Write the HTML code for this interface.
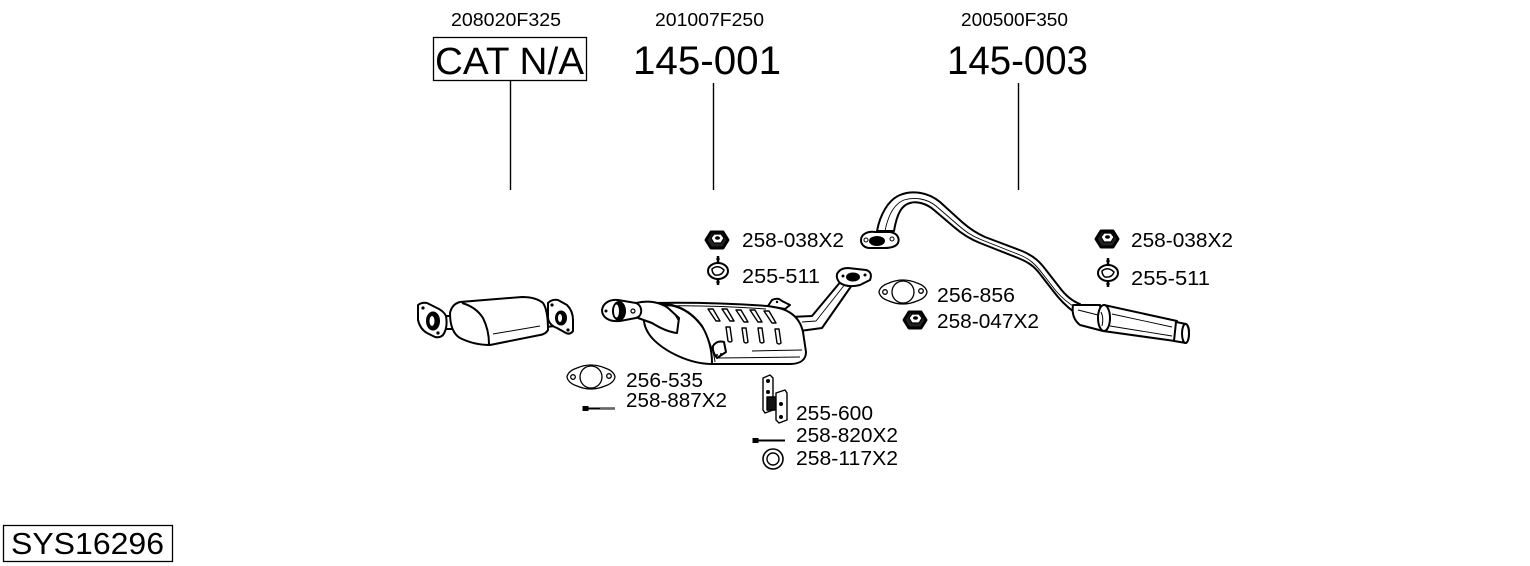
<!DOCTYPE html>
<html><head><meta charset="utf-8"><style>html,body{margin:0;padding:0;background:#fff;}svg{display:block}</style></head>
<body>
<svg width="1530" height="566" viewBox="0 0 1530 566" xmlns="http://www.w3.org/2000/svg" font-family="Liberation Sans, Arial, sans-serif">
<rect width="1530" height="566" fill="#fff"/>

<!-- top reference labels -->
<g fill="#000">
<text x="451" y="26" font-size="18" textLength="110" lengthAdjust="spacingAndGlyphs">208020F325</text>
<text x="655" y="26" font-size="18" textLength="109" lengthAdjust="spacingAndGlyphs">201007F250</text>
<text x="961" y="26" font-size="18" textLength="107" lengthAdjust="spacingAndGlyphs">200500F350</text>
<text x="435" y="74" font-size="38" textLength="149" lengthAdjust="spacingAndGlyphs">CAT N/A</text>
<text x="633" y="74" font-size="40" textLength="148" lengthAdjust="spacingAndGlyphs">145-001</text>
<text x="947" y="74" font-size="40" textLength="141" lengthAdjust="spacingAndGlyphs">145-003</text>
</g>
<rect x="433.5" y="37.5" width="153" height="43" fill="none" stroke="#000" stroke-width="1.3"/>
<g stroke="#000" stroke-width="1.4">
<line x1="510.5" y1="81" x2="510.5" y2="190"/>
<line x1="713.5" y1="83" x2="713.5" y2="190"/>
<line x1="1018.5" y1="83" x2="1018.5" y2="190"/>
</g>

<!-- bottom-left system box -->
<rect x="3.5" y="525.5" width="169" height="36" fill="none" stroke="#000" stroke-width="1.3"/>
<text x="11" y="554" font-size="31" textLength="153" lengthAdjust="spacingAndGlyphs">SYS16296</text>

<!-- part labels -->
<g font-size="20" fill="#000">
<text x="742" y="247" textLength="102" lengthAdjust="spacingAndGlyphs">258-038X2</text>
<text x="742" y="283" textLength="78" lengthAdjust="spacingAndGlyphs">255-511</text>
<text x="937" y="302" textLength="78" lengthAdjust="spacingAndGlyphs">256-856</text>
<text x="937" y="328" textLength="102" lengthAdjust="spacingAndGlyphs">258-047X2</text>
<text x="1131" y="247" textLength="102" lengthAdjust="spacingAndGlyphs">258-038X2</text>
<text x="1131" y="285" textLength="79" lengthAdjust="spacingAndGlyphs">255-511</text>
<text x="626" y="387" textLength="77" lengthAdjust="spacingAndGlyphs">256-535</text>
<text x="626" y="407" textLength="101" lengthAdjust="spacingAndGlyphs">258-887X2</text>
<text x="796" y="420" textLength="77" lengthAdjust="spacingAndGlyphs">255-600</text>
<text x="796" y="442" textLength="102" lengthAdjust="spacingAndGlyphs">258-820X2</text>
<text x="796" y="465" textLength="102" lengthAdjust="spacingAndGlyphs">258-117X2</text>
</g>

<defs>
<g id="nut">
<path d="M-11,0 L-6,-8 L6,-8 L11,0 L6,8 L-6,8 Z" fill="#222" stroke="#000" stroke-width="3" stroke-linejoin="round"/>
<path d="M-6,-2 L-3,-6 L4,-6 L7,-2 L4,3 L-3,3 Z" fill="#fff" stroke="#000" stroke-width="1.2"/>
<ellipse cx="0.5" cy="-2" rx="2.5" ry="1.8" fill="#000"/>
</g>
<g id="hanger" fill="none" stroke="#000">
<line x1="0" y1="-15" x2="0" y2="-7" stroke-width="2.5"/>
<line x1="-2" y1="-12" x2="2" y2="-12" stroke-width="1"/>
<ellipse cx="0" cy="0" rx="10" ry="8" fill="#fff" stroke-width="2"/>
<path d="M-6,-2 Q0,-7 6,-1 Q4,5 -3,4 Q-6,2 -6,-2 Z" stroke-width="1.5"/>
<line x1="0" y1="7" x2="0" y2="14" stroke-width="2.5"/>
<line x1="-2" y1="11" x2="2" y2="11" stroke-width="1"/>
</g>
<g id="gasket" fill="#fff" stroke="#000" stroke-width="1.3">
<path d="M-24,0 Q-23,-6 -14,-9 Q0,-15 14,-9 Q23,-6 24,0 Q23,6 14,9 Q0,15 -14,9 Q-23,6 -24,0 Z"/>
<circle cx="0" cy="0" r="11"/>
<circle cx="-18" cy="0" r="2.3"/>
<circle cx="18" cy="-1" r="2.3"/>
</g>
</defs>

<!-- small icons -->
<use href="#nut" x="717" y="240"/>
<use href="#hanger" x="718" y="271"/>
<use href="#nut" x="1107" y="239"/>
<use href="#hanger" x="1108" y="273"/>
<use href="#gasket" x="903" y="292"/>
<use href="#nut" x="915" y="320"/>
<use href="#gasket" x="591" y="377"/>

<!-- bolt 258-887X2 -->
<g stroke="#000">
<rect x="583" y="406.5" width="5" height="4" fill="#000"/>
<line x1="588" y1="408.5" x2="615" y2="408.5" stroke-width="2"/>
<line x1="600" y1="408.5" x2="615" y2="408.5" stroke-width="1" stroke="#666"/>
</g>
<!-- bolt 258-820X2 -->
<g stroke="#000">
<rect x="753" y="438.5" width="5" height="4" fill="#000"/>
<line x1="758" y1="440.5" x2="785" y2="440.5" stroke-width="2"/>
</g>
<!-- washer -->
<circle cx="773" cy="459" r="10" fill="#fff" stroke="#000" stroke-width="1.6"/>
<circle cx="773" cy="459" r="6" fill="#fff" stroke="#000" stroke-width="1.4"/>
<!-- bracket 255-600 -->
<g stroke="#000" stroke-width="1.4" fill="#fff" stroke-linejoin="round">
<path d="M763,378 L770,375 L773,378 L773,410 L765,413 L763,410 Z"/>
<circle cx="768" cy="381" r="1.3" fill="#000"/>
<circle cx="768" cy="392" r="1.3" fill="#000"/>
<rect x="767" y="397" width="10" height="13" fill="#111"/>
<path d="M776,393 L785,390 L787,393 L787,420 L779,423 L776,420 Z"/>
<circle cx="781" cy="404" r="1.3" fill="#000"/>
<circle cx="781" cy="417" r="1.3" fill="#000"/>
</g>

<!-- catalytic converter -->
<g stroke="#000" stroke-width="2" fill="#fff" stroke-linejoin="round">
<path d="M545,313 L556,313 L556,326 L545,327 Z"/>
<path d="M548,303 Q552,299 558,300 L567,305 Q573,311 573,320 L573,331 Q570,335 566,333 L557,328 Q549,325 548,318 Z"/>
<ellipse cx="561" cy="318" rx="5" ry="6.5" fill="#000"/>
<ellipse cx="560" cy="318" rx="2" ry="4" fill="#fff" stroke="none"/>
<circle cx="552" cy="305" r="1.6" fill="#000" stroke="none"/>
<circle cx="568" cy="330" r="1.6" fill="#000" stroke="none"/>
<path d="M444,316 L456,316 L456,329 L444,329 Z"/>
<path d="M460,302 L522,297 Q536,297 543,303 Q548,310 548,330 Q546,334 540,335 L490,345 Q474,345 460,338 Q450,332 450,313 Q452,304 460,302 Z"/>
<path d="M462,303 Q476,307 483,318 Q489,330 489,344" fill="none"/>
<path d="M493,334 L540,326" fill="none" stroke-width="1"/>
<path d="M418,305 Q422,302 427,303 L435,307 Q444,311 446,316 Q448,328 443,335 Q440,338 435,337 L427,333 Q420,329 418,320 Z"/>
<ellipse cx="433" cy="321" rx="6" ry="8.5" fill="#000"/>
<ellipse cx="432" cy="321" rx="2.5" ry="5" fill="#fff" stroke="none"/>
<circle cx="423" cy="308" r="1.6" fill="#000" stroke="none"/>
<circle cx="438" cy="333" r="1.6" fill="#000" stroke="none"/>
</g>

<!-- middle muffler -->
<g stroke="#000" stroke-width="2" fill="#fff" stroke-linejoin="round">
<!-- outlet pipe -->
<path d="M790,317 L812,316 L842,280 L852,285 L822,328 L800,331 Z"/>
<path d="M802,322 L816,321 L846,283" fill="none" stroke-width="0.9"/>
<path d="M837,274 Q840,268 848,268 L866,270 Q873,272 870,280 L860,285 Q848,288 840,283 Q836,279 837,274 Z"/>
<ellipse cx="853" cy="277" rx="6" ry="3.5" fill="#000"/>
<circle cx="843" cy="276" r="1.5" fill="#000" stroke="none"/>
<circle cx="865" cy="275" r="1.5" fill="#000" stroke="none"/>
<!-- body -->
<path d="M652,303 C700,302 740,304 768,306 C790,308 800,318 803,332 L806,352 C806,360 800,364 790,364 L712,364 C690,364 665,352 652,338 C640,324 642,306 652,303 Z"/>
<path d="M655,306 C700,305 740,307 766,309" fill="none" stroke-width="1"/>
<path d="M656,304 C676,302 692,312 702,326 C709,338 712,350 712,363" fill="none"/>
<path d="M662,305 C680,305 694,315 704,330 C710,342 714,352 715,362" fill="none" stroke-width="1"/>
<path d="M752,351 L802,350" fill="none" stroke-width="1"/>
<path d="M718,358 L800,357" fill="none" stroke-width="1"/>
<!-- ribs upper -->
<g stroke-width="1.4" fill="none">
<path d="M708,309 l5,0 l7,12 l-4,0 z"/>
<path d="M722,309 l5,0 l7,12 l-4,0 z"/>
<path d="M736,310 l5,0 l7,12 l-4,0 z"/>
<path d="M750,310 l5,0 l7,12 l-4,0 z"/>
<path d="M764,311 l5,0 l7,12 l-4,0 z"/>
<!-- ribs lower -->
<path d="M726,327 l4,0 l2,14 q-2,2 -4,0 z"/>
<path d="M742,328 l4,0 l2,14 q-2,2 -4,0 z"/>
<path d="M758,328 l4,0 l2,14 q-2,2 -4,0 z"/>
<path d="M775,329 l4,0 l2,14 q-2,2 -4,0 z"/>
</g>
<!-- hanger bump -->
<path d="M768,306 L772,300 Q778,297 782,301 L790,305 L785,309 Z"/>
<circle cx="777" cy="302" r="1.2" fill="#000" stroke="none"/>
<!-- small bracket -->
<path d="M713,346 Q717,340 724,342 L726,352 L717,358 Q712,352 713,346 Z"/>
<circle cx="717" cy="355" r="1" fill="#000" stroke="none"/>
<circle cx="721" cy="354" r="1" fill="#000" stroke="none"/>
<!-- inlet pipe -->
<path d="M636,303 C648,300 660,302 668,308 L679,318 L677,333 C668,332 660,328 652,323 L638,318 Z"/>
<path d="M660,304 C668,306 674,312 678,320" fill="none" stroke-width="1"/>
<!-- inlet flange -->
<path d="M602,310 C603,303 610,299 618,300 L636,303 C643,306 643,316 636,318 L620,321 C610,322 602,318 602,310 Z"/>
<ellipse cx="619" cy="311" rx="6" ry="9" fill="#000"/>
<ellipse cx="616.5" cy="311" rx="2.5" ry="6.5" fill="#fff" stroke="none"/>
<circle cx="606" cy="311" r="1.5" fill="#000" stroke="none"/>
<circle cx="633" cy="311" r="2" fill="#fff" stroke-width="1.2"/>
</g>

<!-- rear pipe + rear muffler -->
<g stroke="#000" stroke-width="2" fill="#fff" stroke-linejoin="round">
<path d="M877,231 C880,215 888,200 900,195 C912,190 928,192 940,202 L962,222 C970,229 976,233 985,237 L1022,251 C1034,256 1040,262 1046,270 L1060,288 C1066,296 1072,301 1080,304 L1074,312 C1066,306 1060,300 1054,292 L1040,274 C1034,266 1028,262 1018,258 L980,243 C970,239 962,234 954,227 L934,210 C926,203 916,201 910,203 C902,205 897,213 894,231 Z"/>
<path d="M885,231 C888,216 894,204 904,200 C914,197 926,198 936,206 L958,225 C966,232 972,236 982,240 L1020,255 C1030,259 1036,265 1042,273 L1056,291 C1062,298 1068,303 1076,308" fill="none" stroke-width="0.9"/>
<path d="M861,240 C861,234 868,231 875,232 L890,232 C897,233 900,238 898,243 C896,247 890,248 884,248 L870,248 C864,248 861,244 861,240 Z"/>
<ellipse cx="877" cy="241" rx="7" ry="4" fill="#000"/>
<circle cx="866" cy="240" r="2" fill="#fff" stroke-width="1"/>
<circle cx="892" cy="239" r="2" fill="#fff" stroke-width="1"/>
<!-- cone -->
<path d="M1073,305 L1100,305 L1103,331 L1080,325 Q1071,318 1073,305 Z"/>
<path d="M1078,310 L1098,315" fill="none" stroke-width="1"/>
<!-- body -->
<path d="M1104,305 L1177,321 L1175,341 L1103,331 Z"/>
<path d="M1112,314 L1172,327" fill="none" stroke-width="0.9"/>
<path d="M1110,326 L1172,336" fill="none" stroke-width="0.9"/>
<ellipse cx="1104" cy="318" rx="6" ry="13"/>
<path d="M1101,312 Q1104,318 1102,326" fill="none" stroke-width="1"/>
<!-- tail -->
<path d="M1176,322 L1186,324 C1190,326 1190,340 1186,343 L1174,341 Z"/>
<ellipse cx="1185.5" cy="333.5" rx="3.5" ry="9.5"/>
</g>
</svg>
</body></html>
